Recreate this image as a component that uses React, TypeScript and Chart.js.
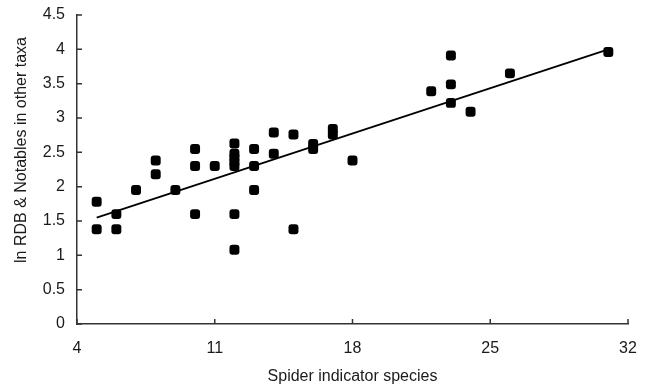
import React, { useEffect, useRef } from "react";
import { Chart, registerables } from "chart.js";

Chart.register(...registerables);

// Spider indicator species (x) vs ln RDB & Notables in other taxa (y)
const spiderSpecies = [5, 5, 6, 6, 7, 8, 8, 9, 10, 10, 10, 11, 12, 12, 12, 12, 12, 12, 12, 13, 13, 13, 14, 14, 15, 15, 16, 16, 17, 17, 18, 22, 23, 23, 23, 24, 26, 31];
const lnOtherTaxa = [1.78, 1.38, 1.6, 1.38, 1.95, 2.38, 2.18, 1.95, 2.55, 2.3, 1.6, 2.3, 2.63, 2.48, 2.42, 2.36, 2.3, 1.6, 1.08, 2.55, 2.3, 1.95, 2.79, 2.48, 2.76, 1.38, 2.62, 2.55, 2.84, 2.76, 2.38, 3.39, 3.91, 3.49, 3.22, 3.09, 3.65, 3.96];

// Fitted trend line end points
const trendX = [5, 31];
const trendY = [1.55, 4.0];

const xTicks = [4, 11, 18, 25, 32];
const yTicks = [0, 0.5, 1, 1.5, 2, 2.5, 3, 3.5, 4, 4.5];

const xTitle = "Spider indicator species";
const yTitle = "ln RDB & Notables in other taxa";

const FONT = "'Liberation Sans', Arial, sans-serif";

const insideTicks = {
  id: "insideTicks",
  afterDraw(chart: any) {
    const { ctx, chartArea, scales } = chart;
    ctx.save();
    ctx.strokeStyle = "#333";
    ctx.lineWidth = 1.5;
    ctx.beginPath();
    for (const v of xTicks) {
      const px = scales.x.getPixelForValue(v);
      ctx.moveTo(px, chartArea.bottom);
      ctx.lineTo(px, chartArea.bottom - 5);
    }
    for (const v of yTicks) {
      const py = scales.y.getPixelForValue(v);
      ctx.moveTo(chartArea.left, py);
      ctx.lineTo(chartArea.left + 5, py);
    }
    ctx.stroke();
    // axis titles
    ctx.fillStyle = "#1a1a1a";
    ctx.font = `16px ${FONT}`;
    ctx.textAlign = "center";
    ctx.textBaseline = "middle";
    ctx.fillText(xTitle, (chartArea.left + chartArea.right) / 2, 377);
    ctx.translate(22, 150);
    ctx.rotate(-Math.PI / 2);
    ctx.fillText(yTitle, 0, 0);
    ctx.restore();
  },
};

export default function App() {
  const ref = useRef<HTMLCanvasElement>(null);
  useEffect(() => {
    if (!ref.current) return;
    const points = spiderSpecies.map((x, i) => ({ x, y: lnOtherTaxa[i] }));
    const trend = trendX.map((x, i) => ({ x, y: trendY[i] }));
    const chart = new Chart(ref.current, {
      type: "scatter",
      data: {
        datasets: [
          {
            type: "line",
            data: trend,
            borderColor: "#000",
            borderWidth: 1.8,
            pointRadius: 0,
            fill: false,
            order: 2,
          } as any,
          {
            data: points,
            backgroundColor: "#000",
            borderColor: "#000",
            borderWidth: 0,
            pointStyle: "rectRounded",
            pointRadius: 5.8,
            order: 1,
          },
        ],
      },
      options: {
        animation: false,
        responsive: false,
        maintainAspectRatio: false,
        layout: { padding: { top: 15, right: 19, left: 0, bottom: 0 } },
        plugins: { legend: { display: false }, tooltip: { enabled: false } },
        scales: {
          x: {
            type: "linear",
            min: 4,
            max: 32,
            afterBuildTicks: (s: any) => {
              s.ticks = xTicks.map((v) => ({ value: v }));
            },
            afterFit: (s: any) => {
              s.height = 63;
              s.paddingLeft = 0;
              s.paddingRight = 0;
            },
            grid: { display: false, drawTicks: false },
            border: { display: true, color: "#333", width: 1.5 },
            ticks: { padding: 15, color: "#1a1a1a", font: { size: 16, family: FONT }, callback: (v: any) => String(v) },
          },
          y: {
            type: "linear",
            min: 0,
            max: 4.5,
            afterBuildTicks: (s: any) => {
              s.ticks = yTicks.map((v) => ({ value: v }));
            },
            afterFit: (s: any) => {
              s.width = 77;
              s.paddingTop = 0;
              s.paddingBottom = 0;
            },
            grid: { display: false, drawTicks: false },
            border: { display: true, color: "#333", width: 1.5 },
            ticks: { padding: 12, color: "#1a1a1a", font: { size: 16, family: FONT }, callback: (v: any) => String(v) },
          },
        },
      },
      plugins: [insideTicks],
    });
    return () => chart.destroy();
  }, []);
  return (
    <div style={{ position: "fixed", left: 0, top: 0, width: 647, height: 387, background: "#fff" }}>
      <canvas ref={ref} width={647} height={387} style={{ width: 647, height: 387, display: "block" }} />
    </div>
  );
}
